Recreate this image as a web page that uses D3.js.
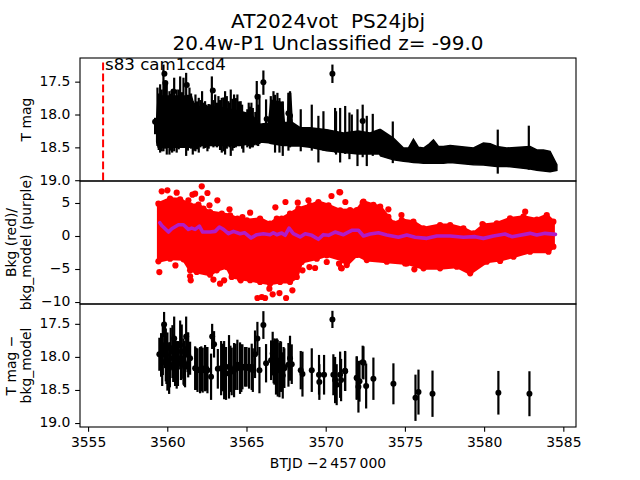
<!DOCTYPE html>
<html><head><meta charset="utf-8">
<script src="https://cdn.jsdelivr.net/npm/d3@7"></script>
<style>html,body{margin:0;padding:0;background:#fff}svg{display:block}text{font-family:"DejaVu Sans",sans-serif;fill:#000}</style>
</head><body><svg id="c" width="640" height="480"></svg>
<script>
const xTicks=[3555,3560,3565,3570,3575,3580,3585];
const yTicks1=[17.5,18,18.5,19], yTicks2=[5,0,-5,-10], yTicks3=[17.5,18,18.5,19];
const markerEpoch=3555.8;
// Panel 1: dense core of the light curve
const tCore=[3559.2,3559.3,3561.4,3561.6,3563,3564.5,3565.2,3565.76,3566.3,3566.45,3567.2,3567.3,3567.5,3567.56,3567.7,3567.8,3568.3,3568.93,3569.99,3571.05,3572.0,3572.74,3573.33,3573.4,3574.22,3574.86,3575.17,3575.49,3575.81,3576.13,3576.44,3576.76,3577.08,3577.39,3577.82,3579.3,3579.93,3580.36,3580.78,3581.41,3582.89,3583.32,3583.74,3584.16,3584.59];
const coreTop=[18.05,17.72,17.72,17.88,17.88,17.95,18,18.15,18.13,17.78,17.82,18.12,18.12,17.68,17.68,18.12,18.2,18.2,18.23,18.28,18.25,18.28,18.23,18.23,18.36,18.51,18.51,18.375,18.5,18.51,18.46,18.385,18.486,18.486,18.47,18.51,18.435,18.445,18.486,18.51,18.486,18.54,18.54,18.56,18.765];
const coreBot=[18.42,18.5,18.5,18.47,18.47,18.47,18.44,18.42,18.43,18.44,18.47,18.47,18.47,18.47,18.48,18.48,18.48,18.5,18.55,18.58,18.6,18.6,18.6,18.63,18.69,18.71,18.72,18.73,18.735,18.74,18.74,18.74,18.74,18.74,18.73,18.765,18.77,18.78,18.79,18.79,18.83,18.85,18.86,18.87,18.85];
// Panel 1: error-bar extents standing out of the core
const tBar1=[3559.1,3559.25,3559.42,3559.63,3559.84,3560.01,3560.18,3560.31,3560.47,3560.69,3560.9,3561.07,3561.28,3561.49,3561.66,3561.87,3562.08,3562.27,3562.42,3562.59,3562.7,3562.91,3563.12,3563.33,3563.54,3563.75,3563.9,3564.11,3564.32,3564.53,3564.7,3564.87,3565.04,3565.21,3565.38,3565.55,3565.72,3565.97,3566.14,3566.44,3566.61,3566.71,3566.86,3566.99,3567.2,3567.56,3567.66,3568.34,3569.04,3569.46,3569.78,3570.35,3570.52,3570.58,3570.84,3571.16,3571.43,3571.58,3571.94,3572.27,3572.53,3572.91,3574.18,3580.84,3582.81,
 3559.33,3559.52,3559.73,3560.1,3560.6,3560.8,3561.18,3561.38,3561.58,3561.76,3561.97,3562.18,3562.35,3562.5,3562.8,3563.02,3563.22,3563.44,3563.65,3563.82,3564.01,3564.22,3564.42,3564.62,3564.95,3565.12,3565.3,3565.46,3565.64];
const barTop1=[18.05,17.59,17.54,17.24,17.54,17.645,17.645,17.44,17.62,17.42,17.44,17.366,17.59,17.797,17.695,17.746,17.645,17.797,17.87,17.847,17.42,17.695,17.72,17.746,17.645,17.797,17.62,17.695,17.695,17.797,18.02,18.1,17.82,17.82,18.1,17.49,17.695,17.33,17.77,17.72,17.645,17.7,17.67,17.75,17.8,17.67,17.645,17.92,17.85,18.02,17.95,17.24,17.9,17.95,17.9,17.87,17.97,18,17.92,17.85,18.02,17.99,18.106,18.23,18.17,
 17.68,17.62,17.5,17.68,17.62,17.66,17.7,17.68,17.82,17.8,17.78,17.82,17.85,17.84,17.78,17.82,17.78,17.74,17.72,17.82,17.76,17.75,17.8,17.85,17.92,17.88,17.9,17.96,17.85];
const barBot1=[18.3,18.48,18.58,18.56,18.61,18.61,18.58,18.56,18.58,18.51,18.5,18.63,18.48,18.61,18.56,18.58,18.48,18.51,18.56,18.48,18.48,18.455,18.48,18.58,18.61,18.48,18.63,18.51,18.465,18.455,18.58,18.455,18.48,18.5,18.47,18.47,18.45,17.7,18.38,18.42,18.42,18.58,18.45,18.58,18.63,18.55,18.5,18.56,18.55,18.73,18.55,17.52,18.58,18.61,18.73,18.6,18.68,18.6,18.785,18.65,18.785,18.63,18.74,18.9,18.84,
 18.54,18.56,18.52,18.55,18.53,18.5,18.55,18.52,18.55,18.53,18.5,18.52,18.5,18.52,18.5,18.5,18.54,18.56,18.52,18.5,18.55,18.5,18.48,18.52,18.5,18.52,18.5,18.46,18.48];
const tPt1=[3559.1,3559.69,3559.75,3560.26,3561.11,3562.76,3565.59,3565.97,3566.18,3567.56,3567.66,3570.35,3572.27];
const magPt1=[18.11,17.38,17.52,17.65,17.55,17.635,17.73,17.51,18.07,17.98,18.02,17.38,18.1];
// Panel 2: background envelope, isolated points and model
const tBgUp=[3559.31,3560.05,3560.69,3561.32,3561.85,3562.17,3562.59,3563.33,3563.86,3564.32,3564.92,3565.76,3566.39,3566.82,3567.13,3567.66,3568.19,3568.93,3569.46,3570.1,3570.84,3571.47,3571.9,3572.32,3572.95,3573.38,3573.9,3574.22,3574.75,3575.49,3576.13,3577.18,3577.82,3578.66,3579.3,3579.93,3580.78,3581.62,3582.47,3583.32,3583.95,3584.37];
const bgUp=[4.9,5.66,5.55,4.65,4.75,4.14,3.63,3.38,3.13,2.63,2.37,2.63,1.87,2.63,2.63,3.38,4.14,4.65,5.15,4.65,3.89,3.94,3.94,5.2,4.7,4.44,2.9,1.9,2.42,2.17,1.16,1.66,1.66,1.16,0.4,1.66,1.9,2.67,2.93,2.5,3.18,2.17];
const tBgDn=[3559.31,3560.05,3560.9,3561.32,3561.74,3562.59,3563.01,3563.65,3563.96,3564.49,3565.13,3565.76,3566.39,3567.03,3567.66,3568.09,3568.4,3569.36,3569.99,3571.05,3571.26,3571.9,3572.53,3573.8,3575.07,3576.13,3577.18,3578.24,3579.09,3580.14,3580.99,3581.84,3582.89,3584.06,3584.37];
const bgDn=[-3.84,-3.43,-3.54,-5.2,-5.45,-5.86,-5.2,-4.7,-6.2,-6.46,-6.7,-6.97,-7.22,-6.97,-6.97,-6.21,-3.94,-3.43,-2.93,-3.69,-4.4,-2.88,-3.64,-3.89,-4.15,-4.9,-4.9,-4.65,-5.66,-3.89,-3.64,-3.13,-2.38,-2.38,-1.62];
const tBgPt=[3559.52,3559.88,3560.47,3561.64,3561.47,3562.06,3562.42,3562.06,3561.21,3562.55,3563.05,3563.82,3564.64,3565.13,3559.37,3560.39,3561.32,3561.36,3563.22,3562.8,3563.48,3564.53,3565.59,3566.73,3567.37,3568.83,3570.29,3570.79,3571.17,3568.15,3572.27,3568.45,3568.89,3569.25,3569.99,3570.77,3570.9,3567.81,3566.99,3566.56,3566.08,3565.87,3567.41,3566.35,3570.84,3574.73,3573.9,3582.58,3579.87,3574.96,3575.55,3580.99,3570.94];
const bgPt=[6.77,6.92,6.56,6.41,6.26,7.52,6.51,5.66,5.4,4.65,5.4,4.04,2.88,3.53,-5.46,-4.45,-6.11,-6.72,-7.22,-6.6,-6.72,-6.72,-9.39,4.34,5.15,5.4,6.06,6.66,5.15,5.05,5.05,-5.2,-4.7,-4.85,-3.94,-4.19,-4.85,-8.23,-8.64,-8.84,-9.39,-9.24,-9.39,-7.98,6.61,3.18,4.04,3.68,1.81,-4.15,-5.05,-3.79,-4.9];
const tModel=[3559.4,3559.52,3559.95,3560.16,3560.58,3560.9,3561.21,3561.42,3561.64,3561.91,3562.12,3562.59,3562.91,3563.18,3563.44,3563.75,3564.07,3564.49,3564.77,3565.19,3565.55,3565.97,3566.39,3566.6,3566.82,3567.13,3567.35,3567.6,3567.87,3568.3,3568.62,3569.04,3569.46,3569.78,3570.1,3570.52,3571.05,3571.58,3572,3572.32,3572.74,3573.27,3573.8,3574.54,3575.07,3575.6,3576.34,3576.97,3577.82,3578.66,3579.4,3579.93,3580.57,3581.3,3581.73,3582.89,3583.32,3583.84,3584.5];
const model=[2.02,1.6,0.6,1.1,1.7,1.7,1,1.2,1,1.5,0.6,0.6,0.7,1.36,1,0.35,0.7,0.35,0.5,-0.3,0.2,0.35,0.2,0.5,0.2,0.45,0.1,1.2,0.35,-0.15,0.35,0.1,-0.5,0.2,0.1,0.6,0.2,0.86,0.86,0,0.3,0.5,0.15,-0.2,0.15,-0.2,-0.36,0,0,-0.2,-0.1,-0.36,0,0.3,-0.1,0.4,0.15,0.4,0.25];
// Panel 3: binned difference light curve
const t3=[3559.37,3559.48,3559.59,3559.67,3559.73,3559.78,3559.88,3559.99,3560.09,3560.2,3560.31,3560.37,3560.47,3560.69,3560.79,3560.9,3561,3561.07,3561.2,3561.32,3561.64,3561.79,3561.95,3562.12,3562.27,3562.42,3562.65,3562.72,3562.84,3563.08,3563.29,3563.48,3563.6,3563.79,3563.96,3564.11,3564.32,3564.49,3564.64,3564.81,3565.06,3565.23,3565.44,3565.59,3565.72,3565.97,3566.14,3566.46,3566.56,3566.67,3566.77,3566.88,3566.99,3567.09,3567.2,3567.3,3567.56,3567.66,3567.77,3568.34,3568.45,3569.04,3569.5,3569.52,3569.82,3570.35,3570.41,3570.52,3570.62,3570.84,3570.9,3571.15,3571.16,3571.89,3571.9,3572,3572.07,3572.27,3572.32,3572.49,3572.95,3574.22,3575.62,3575.81,3576.7,3580.88,3582.85,
 3559.55,3559.82,3560.04,3560.25,3560.55,3560.74,3560.95,3561.16,3561.7,3562.03,3562.35,3563.4,3563.88,3564.2,3564.57,3564.9,3565.3,3566.62,3566.82,3567.04,3567.25];
const mag3=[17.96,17.97,17.895,17.51,17.82,17.97,18.07,18.17,17.87,17.92,17.72,18.07,18.12,17.82,17.92,18.07,18.15,17.69,17.97,18.02,18.17,18.2,18.2,18.2,18.17,18.2,18.3,17.69,17.81,18.18,18.17,18.2,18.25,18.15,18.22,18.2,18.12,18.17,18.15,18.15,18.17,18.15,17.96,17.72,18.2,17.518,18.096,18.05,17.95,18.07,18.15,18.17,18.2,18.15,18.28,18.17,18.12,18.02,18.11,18.2,18.26,18.2,18.27,18.38,18.27,17.433,18.27,18.35,18.42,18.27,18.35,18.21,18.216,18.32,18.316,18.452,18.367,18.08,18.09,18.44,18.33,18.407,18.618,18.532,18.557,18.542,18.557,
 18.08,18.05,18.12,18.02,18.1,18.02,18.1,17.93,18.18,18.18,18.18,18.16,18.18,18.15,18.17,18.15,18.2,18.08,18.05,18.12,18.15];
const err3=[0.25,0.33,0.38,0.19,0.35,0.4,0.44,0.39,0.31,0.4,0.33,0.37,0.36,0.37,0.41,0.35,0.31,0.3,0.34,0.25,0.33,0.33,0.35,0.34,0.35,0.35,0.35,0.19,0.2,0.3,0.41,0.44,0.4,0.48,0.36,0.41,0.38,0.39,0.34,0.3,0.31,0.35,0.36,0.25,0.35,0.21,0.29,0.3,0.33,0.35,0.42,0.43,0.41,0.38,0.35,0.3,0.33,0.34,0.3,0.29,0.34,0.33,0.3,0.27,0.3,0.13,0.31,0.35,0.31,0.35,0.32,0.3,0.3,0.33,0.32,0.39,0.31,0.25,0.25,0.34,0.32,0.31,0.35,0.34,0.35,0.33,0.34,
 0.36,0.36,0.34,0.36,0.34,0.33,0.34,0.3,0.32,0.34,0.33,0.36,0.35,0.35,0.36,0.3,0.33,0.32,0.33,0.36,0.3];
// Values above were read with a slightly narrower day scale; this brings them onto the axis ticks.
const readT=t=>t+(3585-t)*0.00505;

const svg=d3.select("#c");
const L=80,R=576,P=[[58,181],[181,304],[304,427]];
const x=d3.scaleLinear().domain([3554.49,3585.8]).range([L,R]);
const X=t=>x(readT(t));
const y1=d3.scaleLinear().domain([19.012,17.14]).range([181,58]);
const y2=d3.scaleLinear().domain([-10.3,8.33]).range([304,181]);
const y3=d3.scaleLinear().domain([19.06,17.2]).range([427,304]);
const clip=svg.append("defs");
P.forEach((p,i)=>clip.append("clipPath").attr("id","p"+i).append("rect").attr("x",L).attr("y",p[0]).attr("width",R-L).attr("height",p[1]-p[0]));
const g=P.map((p,i)=>svg.append("g").attr("clip-path",`url(#p${i})`));

// panel 1
g[0].append("path").attr("d",d3.area().x(d=>X(d.t)).y0(d=>y1(d.b)).y1(d=>y1(d.a)).curve(d3.curveLinear)(tCore.map((t,i)=>({t,a:coreTop[i],b:coreBot[i]})))).attr("fill","#000").attr("stroke","#000").attr("stroke-width",1.5);
g[0].selectAll("line.b").data(tBar1).join("line").attr("class","b").attr("x1",d=>X(d)).attr("x2",d=>X(d)).attr("y1",(d,i)=>y1(barTop1[i])).attr("y2",(d,i)=>y1(barBot1[i])).attr("stroke","#000").attr("stroke-width",2.2);
g[0].selectAll("circle").data(tPt1).join("circle").attr("cx",d=>X(d)).attr("cy",(d,i)=>y1(magPt1[i])).attr("r",3).attr("fill","#000");
g[0].append("line").attr("x1",X(markerEpoch)).attr("x2",X(markerEpoch)).attr("y1",y1(19)).attr("y2",y1(17.17)).attr("stroke","#f00").attr("stroke-width",2).attr("stroke-dasharray","7.7 3.3");

// panel 2
const envPts=tBgUp.map((t,i)=>[t,bgUp[i]]).concat(tBgDn.map((t,i)=>[t,bgDn[i]]).reverse());
g[1].append("path").attr("d",d3.line().x(d=>X(d[0])).y(d=>y2(d[1]))(envPts)+"Z").attr("fill","#f00").attr("stroke","#f00").attr("stroke-width",3).attr("stroke-linejoin","round");
g[1].selectAll("circle").data(envPts.concat(tBgPt.map((t,i)=>[t,bgPt[i]]))).join("circle").attr("cx",d=>X(d[0])).attr("cy",d=>y2(d[1])).attr("r",3.1).attr("fill","#f00");
g[1].append("path").attr("d",d3.line().x(d=>X(d[0])).y(d=>y2(d[1]))(tModel.map((t,i)=>[t,model[i]]))).attr("fill","none").attr("stroke","#b01cc8").attr("stroke-width",3.6).attr("stroke-linejoin","round").attr("stroke-linecap","round");

// panel 3
g[2].selectAll("line.e").data(t3).join("line").attr("class","e").attr("x1",d=>X(d)).attr("x2",d=>X(d)).attr("y1",(d,i)=>y3(mag3[i]-err3[i])).attr("y2",(d,i)=>y3(mag3[i]+err3[i])).attr("stroke","#000").attr("stroke-width",2.2);
g[2].selectAll("circle").data(t3).join("circle").attr("cx",d=>X(d)).attr("cy",(d,i)=>y3(mag3[i])).attr("r",3).attr("fill","#000");

// frames and axes
function yAxis(s,ticks,fmt){const a=svg.append("g").attr("transform",`translate(${L},0)`).call(d3.axisLeft(s).tickValues(ticks).tickFormat(fmt).tickSize(4.86).tickPadding(4.8));
 a.select(".domain").remove();a.selectAll("line").attr("stroke","#000").attr("stroke-width",1.1);a.selectAll("text").attr("font-size",13.9).attr("y",-0.5);}
yAxis(y1,yTicks1,d3.format(".1f"));yAxis(y2,yTicks2,d3.format("d"));yAxis(y3,yTicks3,d3.format(".1f"));
const ax=svg.append("g").attr("transform",`translate(0,427)`).call(d3.axisBottom(x).tickValues(xTicks).tickFormat(d3.format("d")).tickSize(4.86).tickPadding(4.8));
ax.select(".domain").remove();ax.selectAll("line").attr("stroke","#000").attr("stroke-width",1.1);ax.selectAll("text").attr("font-size",13.9);
P.forEach(p=>svg.append("rect").attr("x",L).attr("y",p[0]).attr("width",R-L).attr("height",p[1]-p[0]).attr("fill","none").attr("stroke","#000").attr("stroke-width",1.1));

// text
const txt=(s,px,py,size,rot,anchor)=>svg.append("text").text(s).attr("font-size",size).attr("text-anchor",anchor||"middle").attr("transform",`translate(${px},${py})`+(rot?" rotate(-90)":""));
const title=svg.append("text").attr("font-size",20).attr("text-anchor","middle").style("white-space","pre");
title.append("tspan").attr("x",328).attr("y",28).text("AT2024vot  PS24jbj");
title.append("tspan").attr("x",328).attr("y",49.5).text("20.4w-P1 Unclassified z= -99.0");
txt("s83 cam1ccd4",105,70,16.67,false,"start");
txt("T mag",31,119.5,13.9,true);
txt("Bkg (red)/",16,242.5,13.9,true);
txt("bkg_model (purple)",31,242.5,13.9,true);
txt("T mag \u2212",16,365.5,13.9,true);
txt("bkg_model",31,365.5,13.9,true);
txt("BTJD \u22122\u2009457\u2009000",328,468,13.9);
</script></body></html>
